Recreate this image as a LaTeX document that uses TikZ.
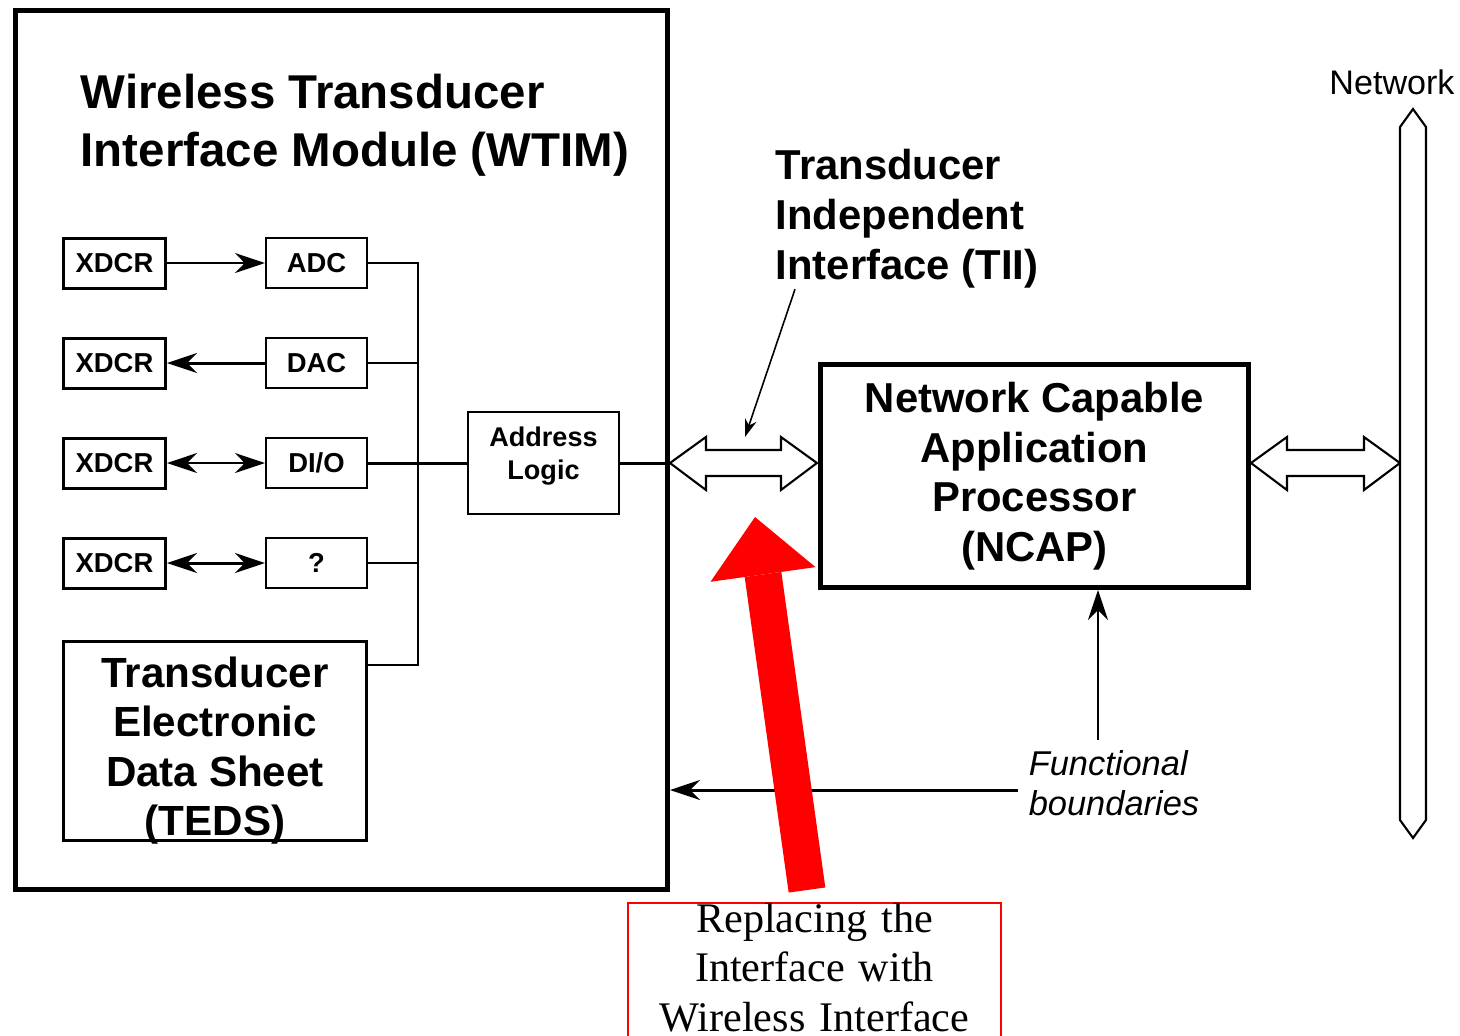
\documentclass[tikz,border=0pt]{standalone}
\usepackage{fontspec}
\setmainfont{Liberation Serif}
\setsansfont{Liberation Sans}
\usetikzlibrary{arrows.meta}

\begin{document}
\begin{tikzpicture}[>={Stealth[length=3mm,width=2mm]},line width=0.45pt,node distance=1cm,
	unit node/.style={draw,line width=0.6pt,minimum width=1.01cm,minimum height=0.5cm,inner sep=0pt,font=\sffamily\bfseries\fontsize{7.8}{9.4}\selectfont},
	xdcr node/.style={unit node,line width=0.85pt,minimum width=1.02cm},
	big node/.style={draw,line width=1.4pt,inner sep=0pt,align=center,font=\sffamily\bfseries\fontsize{11.9}{14.1}\selectfont},
	caption node/.style={inner sep=0pt,align=left,font=\sffamily\bfseries\fontsize{11.9}{14.2}\selectfont},
	hollow/.style={draw,line width=0.6pt,fill=white},
	heavy/.style={line width=0.85pt}]
	\useasboundingbox (0,0) rectangle (14.6,-10.35);

	% WTIM
	\node[draw,line width=1.4pt,minimum width=6.52cm,minimum height=8.79cm] (wtim) at (3.415,-4.50) {};
	\node[caption node,anchor=west,font=\sffamily\bfseries\fontsize{13.5}{16.5}\selectfont] (wtimtitle) at (0.80,-1.25) {Wireless Transducer\\Interface Module (WTIM)};

	\node[xdcr node] (x1) at (1.145,-2.63) {XDCR};
	\node[xdcr node] (x2) [below of=x1] {XDCR};
	\node[xdcr node] (x3) [below of=x2] {XDCR};
	\node[xdcr node] (x4) [below of=x3] {XDCR};
	\node[unit node] (adc) [node distance=2.02cm,right of=x1] {ADC};
	\node[unit node] (dac) [node distance=2.02cm,right of=x2] {DAC};
	\node[unit node] (dio) [node distance=2.02cm,right of=x3] {DI/O};
	\node[unit node] (unk) [node distance=2.02cm,right of=x4] {?};
	\node[draw,line width=0.85pt,inner sep=0pt,minimum width=3.03cm,minimum height=1.99cm,font=\sffamily\bfseries\fontsize{12}{14.1}\selectfont] (teds) at (2.15,-7.41) {\raisebox{-6pt}[0pt][0pt]{\begin{tabular}{@{}c@{}}Transducer\\Electronic\\Data Sheet\\(TEDS)\end{tabular}}};
	\node[unit node,minimum width=1.51cm,minimum height=1.02cm,align=center,font=\sffamily\bfseries\fontsize{7.7}{9.4}\selectfont] (al) at (5.435,-4.63) {Address\\Logic\rule[-5.6pt]{0pt}{0pt}};

	% bus
	\coordinate (bus) at (4.18,0);
	\coordinate (tedsport) at ([yshift=-2.5mm]teds.north east);
	\draw (adc.east) -- (adc.east -| bus) -- (tedsport -| bus) -- (tedsport);
	\draw (dac.east) -- (dac.east -| bus);
	\draw (unk.east) -- (unk.east -| bus);

	\path (x1) edge[->] (adc)
		(dac) edge[->,heavy] (x2)
		(x3) edge[<->] (dio)
		(x4) edge[<->,heavy] (unk)
		(dio) edge[heavy] (al);
	\draw[heavy] (al) -- (al -| wtim.east);

	% NCAP and TII
	\node[big node,minimum width=4.28cm,minimum height=2.23cm] (ncap) at (10.345,-4.76) {Network Capable\\Application\\Processor\\(NCAP)};
	\node[caption node,anchor=west] (tii) at (7.75,-2.19) {Transducer\\Independent\\Interface (TII)};
	\draw[hollow] (al -| wtim.east) -- ++(0.36,0.26) -- ++(0,-0.13) -- ++(0.75,0) -- ++(0,0.13) -- ++(0.36,-0.26) -- ++(-0.36,-0.27) -- ++(0,0.14) -- ++(-0.75,0) -- ++(0,-0.14) -- cycle;
	\coordinate (tiipoint) at (7.45,-4.37);
	\draw[-{Stealth[length=1.8mm,width=1.2mm]}] ([xshift=2mm]tii.south west) -- (tiipoint);
	\draw[hollow] (al -| ncap.east) -- ++(0.36,0.26) -- ++(0,-0.13) -- ++(0.77,0) -- ++(0,0.13) -- ++(0.36,-0.26) -- ++(-0.36,-0.27) -- ++(0,0.14) -- ++(-0.77,0) -- ++(0,-0.14) -- cycle;

	% network
	\node[font=\sffamily\fontsize{9.7}{11}\selectfont] (netlabel) at (13.92,-0.82) {Network};
	\draw[hollow] (14.00,-1.27) -- (14.13,-1.09) -- (14.26,-1.27) -- (14.26,-8.20) -- (14.13,-8.38) -- (14.00,-8.20) -- cycle;

	% functional boundaries
	\node[caption node,anchor=west,font=\sffamily\itshape\fontsize{9.8}{11.4}\selectfont] (fb) at (10.28,-7.83) {Functional\\boundaries};
	\coordinate (fbtop) at (10.98,-7.40);
	\coordinate (fbleft) at (10.18,-7.90);
	\draw[->] (fbtop) -- (fbtop |- ncap.south);
	\draw[->,heavy] (fbleft) -- (fbleft -| wtim.east);

	% replacement note
	\node[draw=red,line width=0.5pt,anchor=north,text width=3.73cm,align=center,inner xsep=0pt,inner ysep=0pt,font=\fontsize{12}{14.1}\selectfont] (note) at (8.145,-9.02) {Replacing the\\Interface with\\Wireless Interface\rule[-10pt]{0pt}{0pt}};
	\coordinate (redtail) at (8.07,-8.90);
	\coordinate (redtip) at (7.55,-5.17);
	\draw[red,line width=3.7mm,-{Triangle[length=5.8mm,width=10.6mm,line width=0pt]}] (redtail) -- (redtip);
\end{tikzpicture}
\end{document}
